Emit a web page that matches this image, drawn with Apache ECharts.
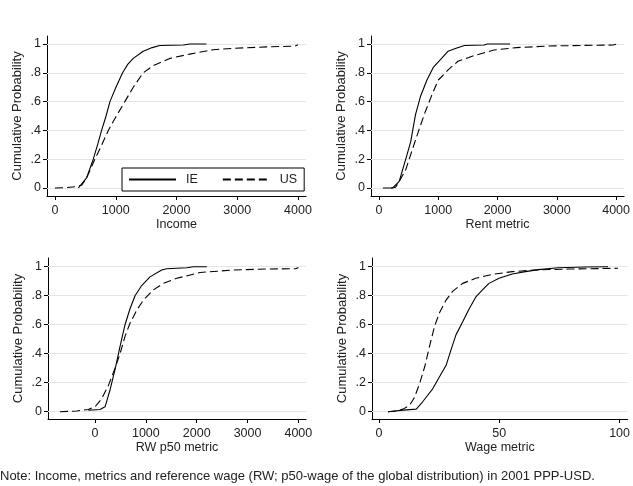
<!DOCTYPE html>
<html>
<head>
<meta charset="utf-8">
<script src="https://cdn.jsdelivr.net/npm/echarts@6/dist/echarts.min.js"></script>
<style>
html,body{margin:0;padding:0;background:#fff;}
#chart{width:633px;height:486px;}
</style>
</head>
<body>
<div id="chart"></div>
<script>
// ---- Data ----
const yTickValues = [0, 0.2, 0.4, 0.6, 0.8, 1];
const yTickLabels = ['0', '.2', '.4', '.6', '.8', '1'];
const xTicksMoney = [0, 1000, 2000, 3000, 4000];
const xTicksWage = [0, 50, 100];
const panelTitles = ['Income', 'Rent metric', 'RW p50 metric', 'Wage metric'];
const seriesNames = ['IE', 'US'];

// Income
const incomeIE_x = [384, 520, 630, 700, 767, 840, 904, 1003, 1112, 1200, 1288, 1452, 1600, 1726, 2110, 2220, 2493];
const incomeIE_y = [0.0, 0.07, 0.2, 0.3, 0.4, 0.5, 0.6, 0.7, 0.8, 0.86, 0.9, 0.95, 0.975, 0.99, 0.993, 1.0, 1.0];
const incomeUS_x = [0, 200, 356, 438, 520, 657, 770, 877, 1010, 1150, 1288, 1452, 1616, 1890, 2219, 2603, 2931, 3479, 3950, 4000];
const incomeUS_y = [0, 0.003, 0.01, 0.02, 0.07, 0.2, 0.3, 0.4, 0.5, 0.6, 0.7, 0.8, 0.85, 0.9, 0.93, 0.96, 0.97, 0.98, 0.985, 0.995];

// Rent metric
const rentIE_x = [66, 231, 341, 451, 534, 616, 699, 809, 919, 1056, 1166, 1300, 1442, 1772, 1827, 2212];
const rentIE_y = [0, 0, 0.046, 0.2, 0.32, 0.51, 0.635, 0.75, 0.84, 0.9, 0.95, 0.97, 0.99, 0.993, 1.0, 1.0];
const rentUS_x = [204, 280, 341, 451, 561, 671, 781, 891, 1001, 1166, 1331, 1607, 1937, 2322, 2872, 3422, 3950, 4000];
const rentUS_y = [0, 0.005, 0.046, 0.127, 0.265, 0.4, 0.53, 0.645, 0.75, 0.82, 0.88, 0.92, 0.958, 0.975, 0.986, 0.99, 0.993, 0.998];

// RW p50 metric
const rwIE_x = [-131, 98, 197, 295, 393, 492, 590, 688, 787, 918, 1082, 1311, 1410, 1803, 1934, 2197];
const rwIE_y = [0.01, 0.016, 0.034, 0.15, 0.29, 0.45, 0.6, 0.71, 0.8, 0.87, 0.93, 0.977, 0.986, 0.993, 1.0, 1.0];
const rwUS_x = [-688, -360, -131, 0, 131, 262, 393, 492, 590, 688, 820, 951, 1148, 1344, 1606, 2066, 2721, 3377, 3950, 4000];
const rwUS_y = [0, 0.005, 0.016, 0.034, 0.09, 0.18, 0.3, 0.4, 0.52, 0.61, 0.7, 0.77, 0.84, 0.885, 0.92, 0.96, 0.977, 0.984, 0.986, 0.995];

// Wage metric
const wageIE_x = [3.8, 10, 15.5, 17.6, 19.6, 22.4, 25.1, 27.9, 29.9, 32, 34.8, 37.5, 40.2, 43, 45.7, 49.9, 55.4, 60.9, 66.3, 74.6, 85.6, 95.2];
const wageIE_y = [0, 0.011, 0.018, 0.057, 0.1, 0.16, 0.24, 0.32, 0.425, 0.53, 0.62, 0.71, 0.79, 0.84, 0.885, 0.92, 0.95, 0.966, 0.98, 0.993, 0.998, 1.0];
const wageUS_x = [3.8, 7.3, 10, 12.8, 14.8, 16.9, 19, 21, 23.1, 25.1, 27.9, 30.6, 34.8, 40.2, 47.1, 55.4, 65, 78.7, 99.3];
const wageUS_y = [0, 0.005, 0.018, 0.046, 0.1, 0.195, 0.31, 0.45, 0.59, 0.68, 0.77, 0.83, 0.885, 0.92, 0.947, 0.966, 0.977, 0.984, 0.989];

const noteText = 'Note: Income, metrics and reference wage (RW; p50-wage of the global distribution) in 2001 PPP-USD.';

// ---- Layout ----
const FONT = '"Liberation Sans", Arial, Helvetica, sans-serif';
const TXT = '#222';
const grids = [
  {left: 47, top: 36, width: 259, height: 160},
  {left: 371, top: 36, width: 259, height: 160},
  {left: 48, top: 258, width: 258, height: 161},
  {left: 372, top: 258, width: 258, height: 161}
];
const xRanges = [[-132, 4132], [-135, 4135], [-925, 4150], [-2.9, 103.4]];
const yRanges = [[-0.0556, 1.0556], [-0.0556, 1.0556], [-0.05, 1.06], [-0.05, 1.06]];
const xTickSets = [xTicksMoney, xTicksMoney, xTicksMoney, xTicksWage];

function pairs(xs, ys) { return xs.map((x, i) => [x, ys[i]]); }
const panelData = [
  [pairs(incomeIE_x, incomeIE_y), pairs(incomeUS_x, incomeUS_y)],
  [pairs(rentIE_x, rentIE_y), pairs(rentUS_x, rentUS_y)],
  [pairs(rwIE_x, rwIE_y), pairs(rwUS_x, rwUS_y)],
  [pairs(wageIE_x, wageIE_y), pairs(wageUS_x, wageUS_y)]
];

const xAxes = [], yAxes = [], series = [];
for (let i = 0; i < 4; i++) {
  xAxes.push({
    type: 'value', gridIndex: i, min: xRanges[i][0], max: xRanges[i][1],
    name: panelTitles[i], nameLocation: 'middle', nameGap: 20,
    nameTextStyle: {fontFamily: FONT, fontSize: 12.5, color: TXT},
    axisLine: {show: true, onZero: false, lineStyle: {color: '#000', width: 1}},
    axisTick: {show: true, length: 4, lineStyle: {color: '#000'}, customValues: xTickSets[i]},
    axisLabel: {show: true, customValues: xTickSets[i], margin: 8, fontFamily: FONT, fontSize: 12.5, color: TXT,
      formatter: v => String(v)},
    splitLine: {show: false}
  });
  yAxes.push({
    type: 'value', gridIndex: i, min: yRanges[i][0], max: yRanges[i][1],
    name: 'Cumulative Probability', nameLocation: 'middle', nameGap: 23,
    nameTextStyle: {fontFamily: FONT, fontSize: 13, color: TXT},
    axisLine: {show: true, onZero: false, lineStyle: {color: '#000', width: 1}},
    axisTick: {show: true, length: 4, lineStyle: {color: '#000'}, customValues: yTickValues},
    axisLabel: {show: true, customValues: yTickValues, margin: 6, fontFamily: FONT, fontSize: 12.5, color: TXT,
      formatter: v => {
        let best = 0;
        yTickValues.forEach((t, k) => { if (Math.abs(t - v) < Math.abs(yTickValues[best] - v)) best = k; });
        return yTickLabels[best];
      }},
    splitLine: {show: false}
  });
  // horizontal grid lines at the y tick values
  series.push({
    type: 'line', name: 'grid' + i, xAxisIndex: i, yAxisIndex: i, data: [], z: 1, silent: true,
    markLine: {
      silent: true, symbol: ['none', 'none'], z: 1, animation: false,
      label: {show: false},
      lineStyle: {color: '#e6e6e6', width: 1, type: 'solid'},
      emphasis: {disabled: true},
      data: yTickValues.map(v => ({yAxis: v}))
    }
  });
  for (let s = 0; s < 2; s++) {
    series.push({
      type: 'line', name: seriesNames[s], xAxisIndex: i, yAxisIndex: i, z: 3,
      data: panelData[i][s], symbol: 'none', showSymbol: false, silent: true,
      animation: false,
      lineStyle: {color: '#000', width: 1.1, type: s === 0 ? 'solid' : [8, 4]},
      itemStyle: {color: '#000'}
    });
  }
}

const chart = echarts.init(document.getElementById('chart'), null, {renderer: 'canvas'});
chart.setOption({
  backgroundColor: '#fff',
  animation: false,
  grid: grids,
  xAxis: xAxes,
  yAxis: yAxes,
  series: series,
  legend: {
    data: seriesNames, left: 122, top: 168, orient: 'horizontal',
    itemWidth: 47, itemHeight: 12, itemGap: 24,
    padding: [5, 7, 5, 6],
    borderColor: '#000', borderWidth: 1, backgroundColor: '#fff',
    itemStyle: {color: 'rgba(0,0,0,0)', borderWidth: 0, opacity: 0},
    textStyle: {fontFamily: FONT, fontSize: 12.5, color: TXT, padding: [0, 0, 0, 5]},
    selectedMode: false
  },
  graphic: [{
    type: 'text', left: 0, top: 470,
    style: {text: noteText, fontFamily: FONT, fontSize: 13, fill: TXT}
  }]
});
</script>
</body>
</html>
